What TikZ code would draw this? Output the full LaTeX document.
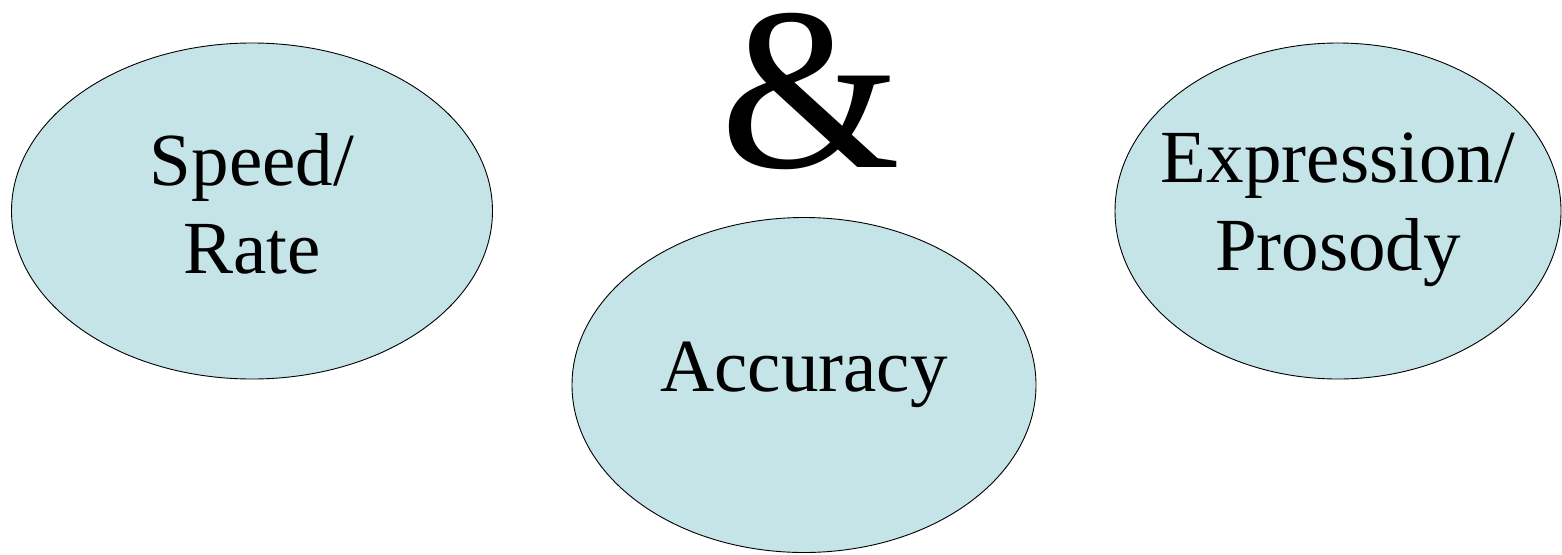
\documentclass[tikz,border=0pt]{standalone}
\usepackage{fontspec}
\setmainfont{Liberation Serif}
\usetikzlibrary{shapes.geometric}
\definecolor{bubblefill}{RGB}{197,228,232}
\begin{document}
\begin{tikzpicture}[x=1pt, y=-1pt,
    bubble/.style={ellipse, draw=black, fill=bubblefill, line width=0.9pt, inner sep=0pt},
    bubbletext/.style={align=center, inner sep=0pt, font=\fontsize{75}{88}\selectfont}]
  \useasboundingbox (0,0) rectangle (1562,554);
  % three fluency parts
  \node[bubble, minimum width=481pt, minimum height=336pt] (speed) at (252,211) {};
  \node[bubble, minimum width=464pt, minimum height=335pt] (accuracy) at (804,385) {};
  \node[bubble, minimum width=446pt, minimum height=336pt] (expression) at (1338,211) {};
  \node[bubbletext] (speedtext) at ([yshift=7pt]speed.center) {Speed/\\Rate};
  \node[bubbletext] (accuracytext) at ([yshift=10pt]accuracy.center) {Accuracy};
  \node[bubbletext] (expressiontext) at ([yshift=1pt]expression.center) {Expression/\\Prosody};
  % the joining sign
  \node[font=\fontsize{232}{232}\selectfont, inner sep=0pt, text height=158pt, text depth=0pt,
    anchor=base] (amp) at (811,167) {\&};
\end{tikzpicture}
\end{document}
